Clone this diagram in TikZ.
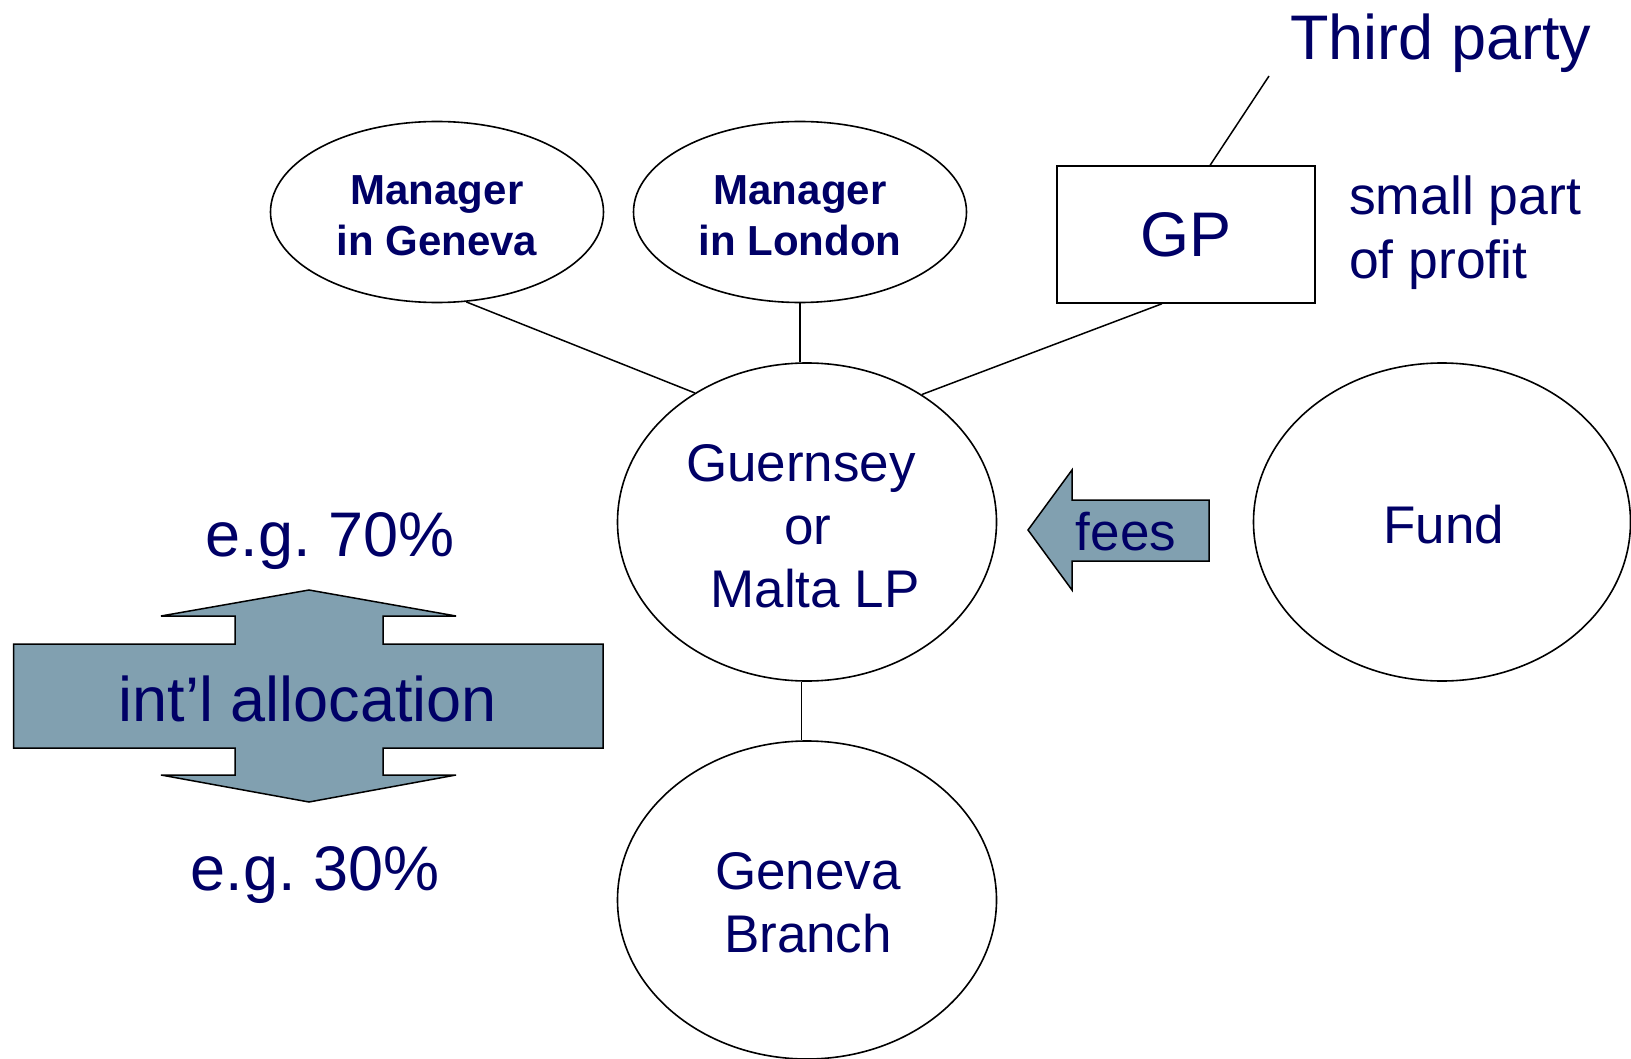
\documentclass[tikz,border=0pt]{standalone}
\usepackage{fontspec}
\setmainfont{Liberation Sans}
\usetikzlibrary{calc,shapes.geometric}
\definecolor{ink}{RGB}{0,0,102}
\definecolor{steel}{RGB}{129,160,176}
\newcommand{\setsz}[2]{\fontsize{#1}{#2}\selectfont}
\frenchspacing
\tikzset{
  bubble/.style={draw, ellipse, line width=1.6pt, inner sep=0pt},
  link/.style={draw, line width=1.5pt},
  lbl/.style={text=ink, inner sep=0pt, anchor=base},
  bigarrow/.style={draw, fill=steel, line width=1.5pt, line join=miter},
}
\begin{document}
\begin{tikzpicture}[x=1pt,y=-1pt]
\useasboundingbox (0,0) rectangle (1631,1059);

% entities
\node[bubble, minimum width=333pt, minimum height=181pt] (mgen) at (437,212) {};
\node[bubble, minimum width=333pt, minimum height=181pt] (mlon) at (800,212) {};
\node[bubble, minimum width=379pt, minimum height=318pt] (lp) at (807,522) {};
\node[bubble, minimum width=377pt, minimum height=318pt] (fund) at (1442,522) {};
\node[bubble, minimum width=379pt, minimum height=318pt] (branch) at (807,900) {};
\node[draw, line width=1.6pt, minimum width=258pt, minimum height=137pt, inner sep=0pt,
      text=ink, font=\setsz{63}{63}] (gp) at (1186,234.5) {GP};

% labels inside the ellipses
\node[lbl, font=\bfseries\setsz{42}{51}] (mgentxt) at (437,205)
  {\begin{tabular}[t]{@{}c@{}}Manager\\in Geneva\end{tabular}};
\node[lbl, font=\bfseries\setsz{42}{51}] (mlontxt) at (800,205)
  {\begin{tabular}[t]{@{}c@{}}Manager\\in London\end{tabular}};
\node[lbl, font=\setsz{53}{63}] (lptxt) at (808,481)
  {\begin{tabular}[t]{@{}c@{}}Guernsey\hspace*{14pt}\\or\\\hspace*{14pt}Malta LP\end{tabular}};
\node[lbl, font=\setsz{53}{63}] (fundtxt) at (1444,543) {Fund};
\node[lbl, font=\setsz{53}{63}] (branchtxt) at (808,889)
  {\begin{tabular}[t]{@{}c@{}}Geneva\\Branch\end{tabular}};

% ownership links
\draw[link] (mgen.-72) -- (lp.131);
\draw[link] (mlon.south) -- (mlon.south |- lp.north);
\draw[link] ($(gp.south west)!0.407!(gp.south east)$) -- (lp.48.7);
\draw[link] (lp.-92) -- (branch.92);

% third party holding in the GP
\coordinate (tp) at (1269,76);
\draw[link] ($(gp.north west)!0.593!(gp.north east)$) -- (tp);
\node[lbl, anchor=base west, font=\setsz{63}{63}] (tptxt) at (1290,60) {Third party};
\node[lbl, anchor=base west, font=\setsz{53.5}{63.5}] (profit) at (1349,215)
  {\begin{tabular}[t]{@{}l@{}}small part\\of profit\end{tabular}};

% fees flowing from the fund
\path[bigarrow] (1028,530) -- (1072,470) -- (1072,500) -- (1209,500) -- (1209,561)
  -- (1072,561) -- (1072,590) -- cycle;
\node[lbl, font=\setsz{53}{63}] (fees) at (1126,550) {fees};

% international allocation
\path[bigarrow] (309,590) -- (456,616) -- (383,616) -- (383,644) -- (603,644)
  -- (603,748) -- (383,748) -- (383,775) -- (456,775) -- (309,802) -- (161,775)
  -- (235,775) -- (235,748) -- (13.5,748) -- (13.5,644) -- (235,644) -- (235,616)
  -- (161,616) -- cycle;
\node[lbl, font=\setsz{63}{63}] (alloc) at (308,721) {int’l allocation};
\node[lbl, font=\setsz{63}{63}] (up) at (330,556) {e.g. 70\%};
\node[lbl, font=\setsz{63}{63}] (down) at (315,890) {e.g. 30\%};
\end{tikzpicture}
\end{document}
